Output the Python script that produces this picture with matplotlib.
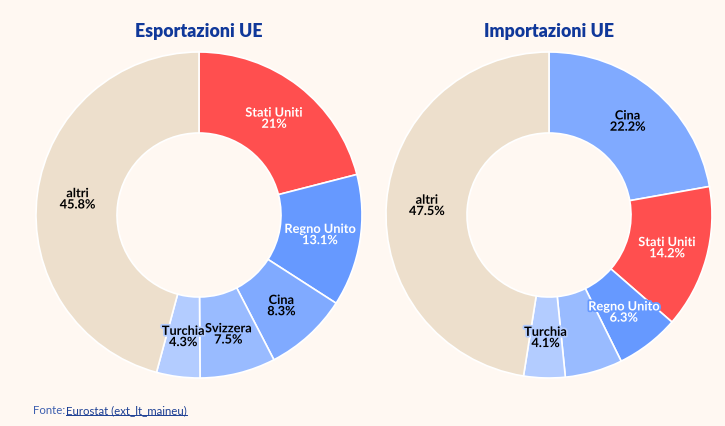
import matplotlib.pyplot as plt
import matplotlib.patheffects as pe
import numpy as np

plt.rcParams['font.family'] = ['Lato', 'DejaVu Sans']

bg = "#FFF8F2"

# Esportazioni UE
expLabels = ["Stati Uniti", "Regno Unito", "Cina", "Svizzera", "Turchia", "altri"]
expValues = [21.0, 13.1, 8.3, 7.5, 4.3, 45.8]
expColors = ["#FF4F4F", "#6699FF", "#80AAFF", "#99BBFF", "#B3CCFF", "#EDDFCC"]

# Importazioni UE
impLabels = ["Cina", "Stati Uniti", "Regno Unito", "Svizzera", "Turchia", "altri"]
impValues = [22.2, 14.2, 6.3, 5.7, 4.1, 47.5]
impColors = ["#80AAFF", "#FF4F4F", "#6699FF", "#99BBFF", "#B3CCFF", "#EDDFCC"]
impShow = [True, True, True, False, True, True]

whiteText = ["Stati Uniti", "Regno Unito"]


def fmtPct(v):
    s = "%.1f" % v
    if s.endswith(".0"):
        s = s[:-2]
    return s + "%"


def drawDonut(fig, cx, title, labels, values, colors, show=None):
    half = 165
    ax = fig.add_axes([(cx - half) / 725, (427 - 216 - half) / 427, 2 * half / 725, 2 * half / 427])
    ax.set_facecolor(bg)
    rOut = 163 / half
    rIn = 82 / half
    wedges, _ = ax.pie(values, colors=colors, startangle=90, counterclock=False,
                       radius=rOut, wedgeprops=dict(width=rOut - rIn, edgecolor="white", linewidth=1.2))
    rMid = (rOut + rIn) / 2
    for n, w in enumerate(wedges):
        if show is not None and not show[n]:
            continue
        ang = np.deg2rad((w.theta1 + w.theta2) / 2)
        x = rMid * np.cos(ang)
        y = rMid * np.sin(ang)
        if labels[n] in whiteText:
            tc = "white"
        else:
            tc = "black"
        ax.text(x, y, labels[n] + "\n" + fmtPct(values[n]), ha="center", va="center",
                fontsize=9.2, fontweight="bold", color=tc, linespacing=0.92,
                path_effects=[pe.withStroke(linewidth=2.5, foreground=colors[n])])
    ax.set_xlim(-1, 1)
    ax.set_ylim(-1, 1)
    ax.set_aspect("equal")
    ax.axis("off")
    fig.text(cx / 725, 1 - 31 / 427, title, ha="center", va="center",
             fontsize=12.8, fontweight="heavy", color="#10389A")


fig = plt.figure(figsize=(7.25, 4.27), dpi=100)
fig.patch.set_facecolor(bg)

drawDonut(fig, 199, "Esportazioni UE", expLabels, expValues, expColors)
drawDonut(fig, 549, "Importazioni UE", impLabels, impValues, impColors, impShow)

fig.text(33 / 725, 1 - 411 / 427, "Fonte: ", ha="left", va="center", fontsize=8.2, color="#3D5FAF")
link = fig.text(66 / 725, 1 - 411 / 427, "Eurostat (ext_lt_maineu)", ha="left", va="center",
                fontsize=8.2, color="#1C3F94")
fig.canvas.draw()
bb = link.get_window_extent()
fig.add_artist(plt.Line2D([bb.x0 / 725, bb.x1 / 725], [(bb.y0 + 0.5) / 427, (bb.y0 + 0.5) / 427],
                          color="#1C3F94", linewidth=0.7))

fig.savefig("out.png", dpi=100, facecolor=bg)
